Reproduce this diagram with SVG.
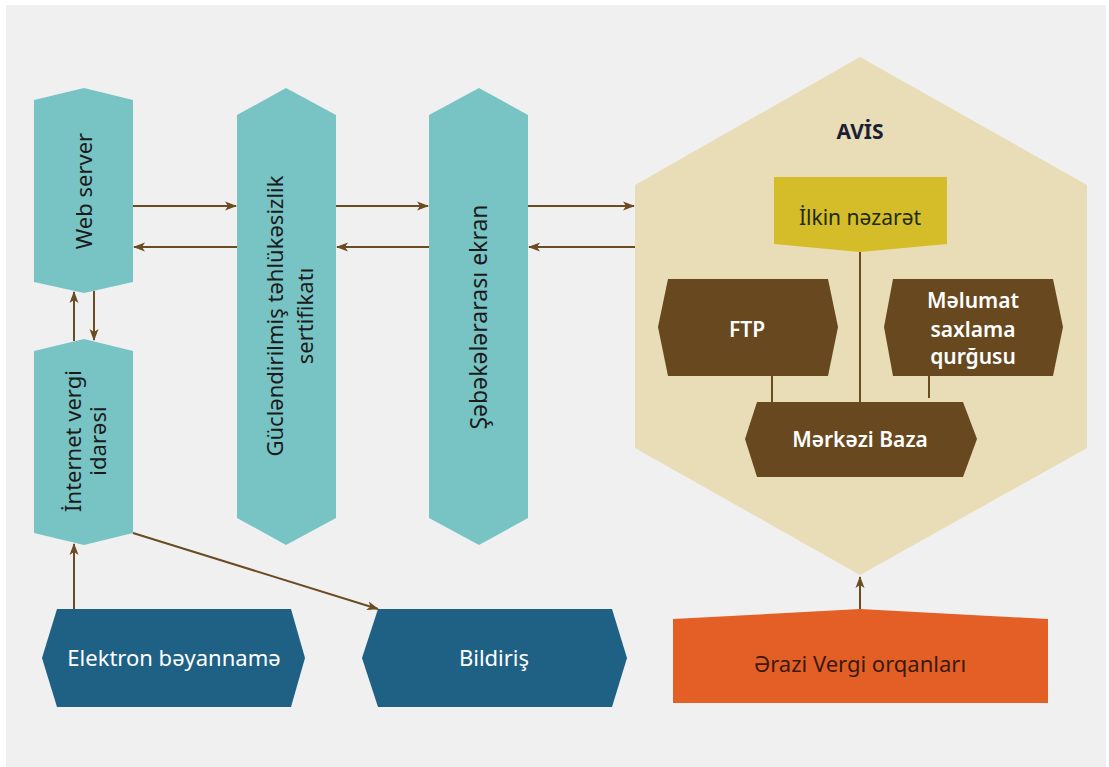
<svg xmlns="http://www.w3.org/2000/svg" width="1109" height="767" viewBox="0 0 1109 767">
<style>
.bg{fill:#f0f0f0}
.teal{fill:#78c4c5}
.navy{fill:#1f6184}
.brown{fill:#68481e}
.cream{fill:#e8ddb6}
.yel{fill:#d5bd29}
.orange{fill:#e35f26}
.t{font-family:"Noto Sans","Open Sans","DejaVu Sans",sans-serif;text-anchor:middle}
.dark{fill:#1b1b1b;font-size:22px}
.w{fill:#ffffff;font-size:21px}
.con{stroke:#6b4c22;stroke-width:2;fill:none}
</style>
<defs>
<marker id="ah" markerWidth="12" markerHeight="10" refX="11" refY="5" orient="auto" markerUnits="userSpaceOnUse">
<path d="M0,0.5 L12,5 L0,9.5 L3,5 Z" fill="#6b4c22"/>
</marker>
</defs>
<rect class="bg" x="6" y="5" width="1100" height="762"/>

<g id="connectors">
<line class="con" x1="133" y1="206" x2="236" y2="206" marker-end="url(#ah)"/>
<line class="con" x1="237" y1="247" x2="134" y2="247" marker-end="url(#ah)"/>
<line class="con" x1="336" y1="206" x2="428" y2="206" marker-end="url(#ah)"/>
<line class="con" x1="429" y1="247" x2="337" y2="247" marker-end="url(#ah)"/>
<line class="con" x1="528" y1="206" x2="634" y2="206" marker-end="url(#ah)"/>
<line class="con" x1="635" y1="247" x2="529" y2="247" marker-end="url(#ah)"/>
<line class="con" x1="74" y1="341" x2="74" y2="292" marker-end="url(#ah)"/>
<line class="con" x1="94" y1="291" x2="94" y2="340" marker-end="url(#ah)"/>
<line class="con" x1="74" y1="609" x2="74" y2="544" marker-end="url(#ah)"/>
<line class="con" x1="133" y1="533" x2="378" y2="609" marker-end="url(#ah)"/>
<line class="con" x1="860" y1="609" x2="860" y2="577" marker-end="url(#ah)"/>
</g>

<g id="web-server">
<polygon class="teal" points="34,100 84,88 133,100 133,282 84,293 34,282"/>
<text class="t dark" transform="translate(92,191) rotate(-90)">Web server</text>
</g>

<g id="sertifikat">
<polygon class="teal" points="237,115 286,88 336,115 336,518 286,545 237,518"/>
<text class="t dark" transform="translate(283,316) rotate(-90)"><tspan x="0" y="0">Gücləndirilmiş təhlükəsizlik</tspan><tspan x="0" y="30">sertifikatı</tspan></text>
</g>

<g id="sebeke-ekran">
<polygon class="teal" points="429,115 479,88 528,115 528,518 479,545 429,518"/>
<text class="t dark" transform="translate(487,317) rotate(-90)" style="font-size:23px">Şəbəkələrarası ekran</text>
</g>

<g id="internet-vergi">
<polygon class="teal" points="34,351 84,339 133,351 133,533 84,545 34,533"/>
<text class="t dark" transform="translate(81,441) rotate(-90)"><tspan x="0" y="0">İnternet vergi</tspan><tspan x="0" y="25">idarəsi</tspan></text>
</g>

<g id="avis">
<polygon class="cream" points="860,57 1087,185 1087,448 860,575 635,448 635,185"/>
<text class="t" x="860" y="139" style="font-size:21px;font-weight:700;fill:#1c1f33">AVİS</text>
</g>

<g id="avis-lines">
<line class="con" x1="860" y1="252" x2="860" y2="402"/>
<line class="con" x1="772" y1="376" x2="772" y2="402"/>
<line class="con" x1="929" y1="376" x2="929" y2="398"/>
</g>

<g id="ilkin-nezaret">
<polygon class="yel" points="774,177 947,177 947,244 860,252 774,244"/>
<text class="t" x="860" y="225" style="font-size:21px;fill:#1e2a10">İlkin nəzarət</text>
</g>

<g id="ftp">
<polygon class="brown" points="668,279 828,279 838,327 828,376 668,376 658,327"/>
<text class="t w" x="747" y="337" style="font-weight:600">FTP</text>
</g>

<g id="melumat">
<polygon class="brown" points="893,279 1053,279 1063,327 1053,376 893,376 884,327"/>
<text class="t w" style="font-weight:600"><tspan x="973" y="308">Məlumat</tspan><tspan x="973" y="337">saxlama</tspan><tspan x="973" y="364">qurğusu</tspan></text>
</g>

<g id="merkezi-baza">
<polygon class="brown" points="757,402 963,402 977,439 963,477 757,477 745,439"/>
<text class="t w" x="860" y="447" style="font-weight:600">Mərkəzi Baza</text>
</g>

<g id="elektron">
<polygon class="navy" points="57,609 291,609 305,658 291,707 57,707 42,658"/>
<text class="t w" x="174" y="666" style="font-size:22px">Elektron bəyannamə</text>
</g>

<g id="bildiris">
<polygon class="navy" points="378,609 612,609 627,658 612,707 378,707 362,658"/>
<text class="t w" x="494" y="666" style="font-size:22px">Bildiriş</text>
</g>

<g id="erazi">
<polygon class="orange" points="673,619 860,609 1048,619 1048,703 673,703"/>
<text class="t" x="860" y="672" style="font-size:22px;fill:#3a1a0c">Ərazi Vergi orqanları</text>
</g>
</svg>
